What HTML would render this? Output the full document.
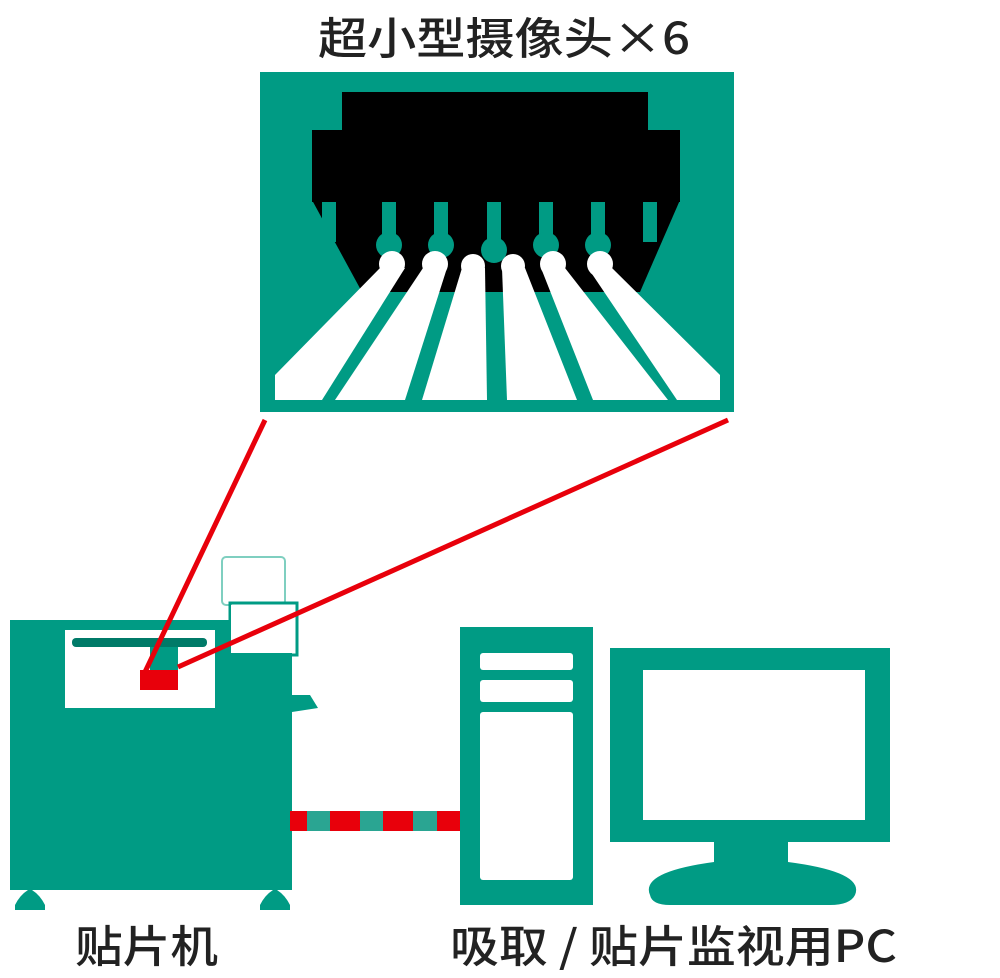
<!DOCTYPE html>
<html><head><meta charset="utf-8"><style>html,body{margin:0;padding:0;background:#fff}svg{display:block}</style></head>
<body>
<svg width="1000" height="978" viewBox="0 0 1000 978" xmlns="http://www.w3.org/2000/svg">
<g font-family="Noto Sans CJK SC, Liberation Sans, sans-serif" font-weight="500" fill="#222" font-size="44">
<text x="318" y="54" textLength="372" lengthAdjust="spacingAndGlyphs">超小型摄像头×6</text>
<text x="75" y="962" textLength="143" lengthAdjust="spacingAndGlyphs">贴片机</text>
<text x="450" y="962" textLength="447" lengthAdjust="spacingAndGlyphs">吸取 / 贴片监视用PC</text>
</g>
<!-- camera box -->
<rect x="260" y="72" width="474" height="340" fill="#009B84"/>
<rect x="342" y="92" width="306" height="45" fill="#000"/>
<rect x="312" y="130" width="368" height="72" fill="#000"/>
<polygon points="312,200 680,200 640,292 362,292" fill="#000"/>
<g fill="#009B84">
<rect x="322" y="202" width="14" height="40"/>
<rect x="382" y="202" width="14" height="45"/>
<rect x="434" y="202" width="14" height="45"/>
<rect x="487" y="202" width="14" height="45"/>
<rect x="539" y="202" width="14" height="45"/>
<rect x="591" y="202" width="14" height="45"/>
<rect x="643" y="202" width="14" height="40"/>
<circle cx="389" cy="245" r="13"/><circle cx="441" cy="245" r="13"/><circle cx="494" cy="250" r="13"/>
<circle cx="546" cy="245" r="13"/><circle cx="598" cy="245" r="13"/>
</g>
<rect x="380" y="284" width="232" height="8" fill="#000"/>
<g fill="#fff">
<circle cx="392" cy="264" r="13"/><circle cx="435" cy="264" r="13"/><circle cx="473" cy="266" r="12"/>
<circle cx="513" cy="266" r="12"/><circle cx="553" cy="264" r="13"/><circle cx="600" cy="264" r="13"/>
<polygon points="380,268 405,268 322,400 275,400 275,375"/>
<polygon points="423,268 447,268 405,400 335,400"/>
<polygon points="462,268 485,268 487,400 422,400"/>
<polygon points="502,268 525,268 577,400 507,400"/>
<polygon points="541,268 565,268 668,400 593,400"/>
<polygon points="588,268 612,268 720,375 720,400 677,400"/>
</g>
<!-- machine -->
<rect x="222" y="557" width="63" height="48" rx="4" fill="#fff" stroke="#7fcfc0" stroke-width="2"/>
<rect x="230" y="603" width="67" height="52" fill="#fff" stroke="#009B84" stroke-width="3"/>
<rect x="10" y="620" width="282" height="270" fill="#009B84"/>
<path d="M292,695 L310,695 L318,708 L292,712 Z" fill="#009B84"/>
<rect x="231" y="605" width="64" height="48" fill="#fff"/>
<rect x="65" y="630" width="150" height="78" fill="#fff"/>
<rect x="72" y="638" width="135" height="9" rx="4" fill="#007a68"/>
<rect x="150" y="647" width="28" height="23" fill="#009B84"/>
<rect x="140" y="670" width="38" height="20" fill="#e8000b"/>
<path d="M15,905 Q20,895 28,890 L32,890 Q40,895 45,905 L45,910 L15,910 Z" fill="#009B84"/>
<path d="M260,905 Q265,895 273,890 L277,890 Q285,895 290,905 L290,910 L260,910 Z" fill="#009B84"/>
<!-- red lines -->
<line x1="265" y1="420" x2="145" y2="672" stroke="#e8000b" stroke-width="5"/>
<line x1="728" y1="420" x2="178" y2="667" stroke="#e8000b" stroke-width="5"/>
<!-- cable -->
<rect x="290" y="811" width="170" height="20" fill="#2aa592"/>
<g fill="#e8000b">
<rect x="290" y="811" width="17" height="20"/><rect x="330" y="811" width="30" height="20"/>
<rect x="383" y="811" width="30" height="20"/><rect x="437" y="811" width="23" height="20"/>
</g>
<!-- tower -->
<rect x="460" y="627" width="133" height="278" fill="#009B84"/>
<rect x="480" y="653" width="93" height="17" rx="3" fill="#fff"/>
<rect x="480" y="680" width="93" height="22" rx="3" fill="#fff"/>
<rect x="480" y="712" width="93" height="168" rx="3" fill="#fff"/>
<!-- monitor -->
<rect x="610" y="648" width="280" height="194" fill="#009B84"/>
<rect x="643" y="670" width="222" height="150" fill="#fff"/>
<path d="M714,840 L788,840 L788,865 L714,865 Z" fill="#009B84"/>
<path d="M650,895 Q640,872 714,862 L788,862 Q865,872 855,895 Q850,905 830,905 L670,905 Q652,905 650,895 Z" fill="#009B84"/>
</svg>
</body></html>
